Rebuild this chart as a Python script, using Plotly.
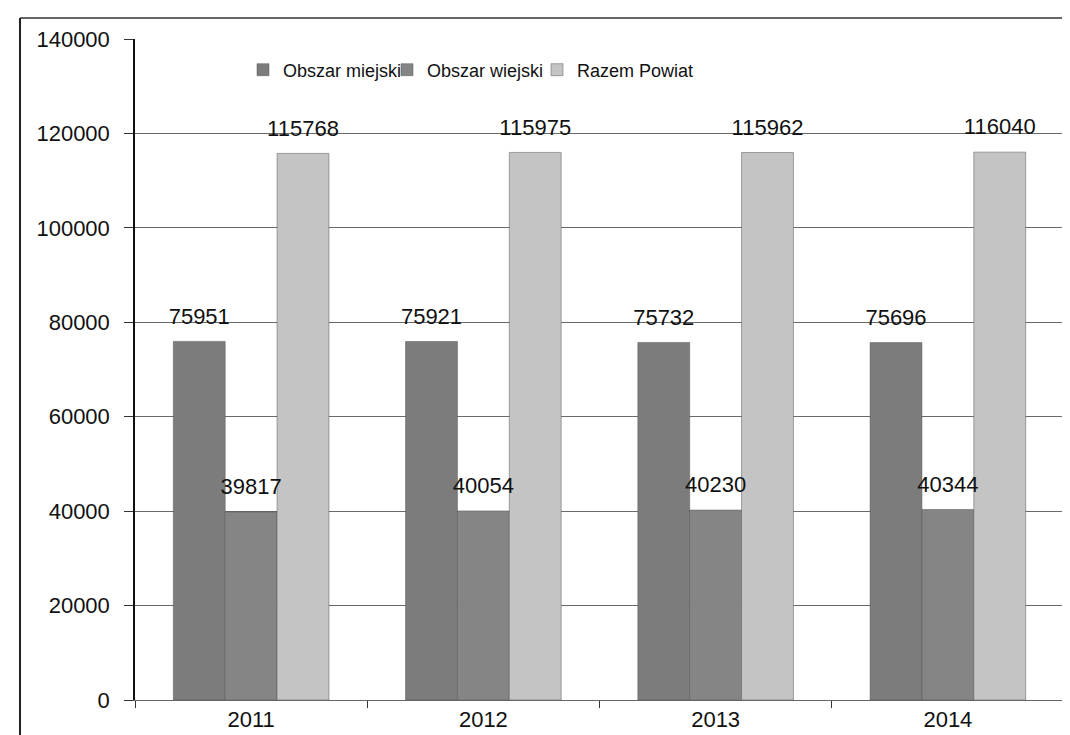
import plotly.graph_objects as go

years = ["2011", "2012", "2013", "2014"]
miejski = [75951, 75921, 75732, 75696]
wiejski = [39817, 40054, 40230, 40344]
razem = [115768, 115975, 115962, 116040]

names = ["Obszar miejski", "Obszar wiejski", "Razem Powiat"]
colors = ["#7c7c7c", "#858585", "#c4c4c4"]
FONT = "Liberation Sans, Arial, sans-serif"

L, R, T, B = 127, 14, 31, 43
W, H = 1070, 735
pw, ph = W - L - R, H - T - B
def px(x): return (x - L) / pw
def py(y): return (H - B - y) / ph

legend_ids = ["legend", "legend2", "legend3"]
legend_x = [235, 379, 529]

fig = go.Figure()
series = [miejski, wiejski, razem]
for i, (name, vals, col) in enumerate(zip(names, series, colors)):
    fig.add_trace(go.Bar(
        x=years, y=vals, name=name, offsetgroup=str(i),
        marker=dict(color=col, line=dict(color="#555555", width=0.5)),
        legend=legend_ids[i],
    ))
for i, (name, vals) in enumerate(zip(names, series)):
    fig.add_trace(go.Scatter(
        x=years, y=vals, offsetgroup=str(i), mode="markers+text",
        marker=dict(size=18, opacity=0),
        text=[str(v) for v in vals], textposition="top center",
        textfont=dict(family=FONT, size=22, color="#111111"),
        showlegend=False, cliponaxis=False, hoverinfo="skip",
    ))

legend_common = dict(orientation="h", xanchor="left", yanchor="middle",
                     font=dict(family=FONT, size=18, color="#111111"),
                     bgcolor="rgba(255,255,255,0)", itemwidth=30)

fig.update_layout(
    width=W, height=H,
    margin=dict(l=L, r=R, t=T, b=B),
    paper_bgcolor="white", plot_bgcolor="white",
    barmode="group", bargap=0.33, bargroupgap=0,
    scattermode="group", scattergap=0.33,
    font=dict(family=FONT, size=20, color="#111111"),
    showlegend=True,
    legend=dict(x=px(legend_x[0]), y=py(62), **legend_common),
    legend2=dict(x=px(legend_x[1]), y=py(62), **legend_common),
    legend3=dict(x=px(legend_x[2]), y=py(62), **legend_common),
    xaxis=dict(type="category", showline=True, linecolor="#666666", linewidth=1,
               ticks="outside", tickson="boundaries", ticklen=7, tickcolor="#333333",
               tickfont=dict(family=FONT, size=22, color="#111111"),
               showgrid=False),
    yaxis=dict(range=[0, 140000], dtick=20000, tickformat="d", showline=True, linecolor="#111111",
               linewidth=1.5, ticks="outside", ticklen=9, tickcolor="#333333",
               tickfont=dict(family=FONT, size=22, color="#111111"),
               showgrid=True, gridcolor="#6a6a6a", gridwidth=1, zeroline=False,
               ticklabelstandoff=10),
    shapes=[
        dict(type="line", xref="paper", yref="paper", x0=px(12), x1=px(1070), y0=py(10), y1=py(10),
             line=dict(color="#333333", width=1.5)),
        dict(type="line", xref="paper", yref="paper", x0=px(12), x1=px(12), y0=py(10), y1=py(735),
             line=dict(color="#222222", width=2)),
    ],
)

fig.write_html("out.html")
